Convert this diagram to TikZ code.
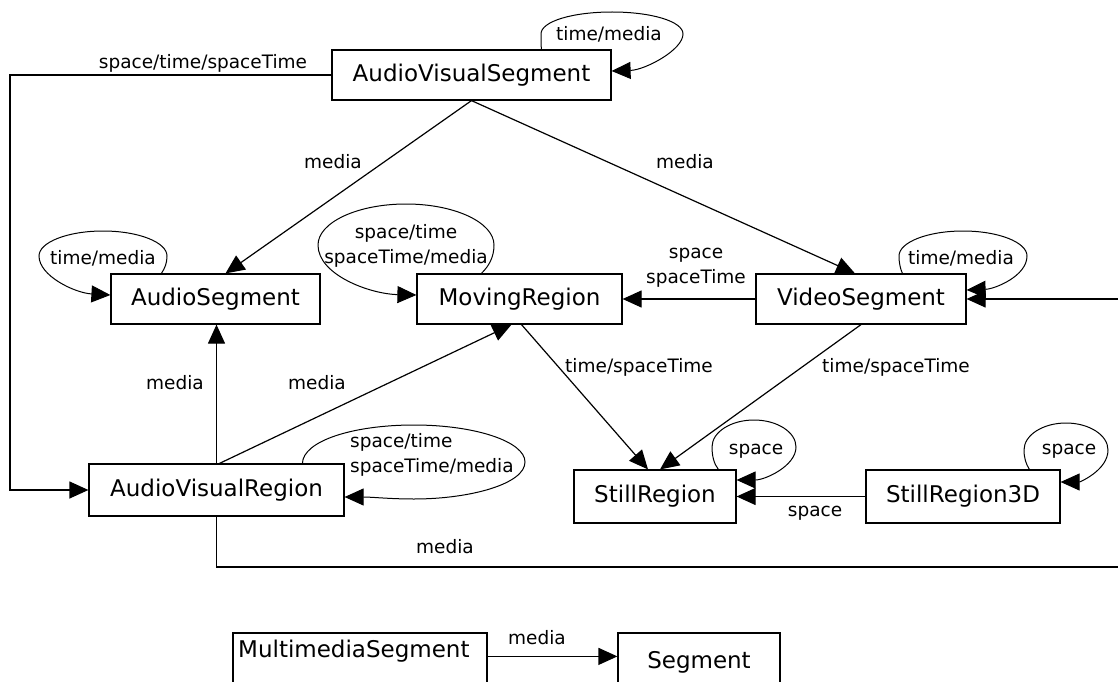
\documentclass[tikz,border=0pt]{standalone}
\usepackage{fontspec}
\setmainfont{DejaVu Sans}
\usetikzlibrary{arrows.meta}
\newcommand\boxfont{\fontsize{23}{28}\selectfont}
\newcommand\edgefont{\fontsize{18.5}{25}\selectfont}
\begin{document}
\begin{tikzpicture}[x=1pt,y=-1pt,
  box/.style={draw, line width=1.2pt, inner sep=0pt, font=\boxfont},
  lbl/.style={inner sep=0pt, font=\edgefont},
  link/.style={line width=1.2pt, -{Triangle[length=19pt,width=17pt]}},
  selfloop/.style={line width=1pt, -{Triangle[length=19pt,width=17pt]}}]
\useasboundingbox (0,0) rectangle (1118,682);
\clip (0,0) rectangle (1118,682);

% segment types
\node[box, minimum width=279pt, minimum height=50pt] (avs) at (471.5,75) {AudioVisualSegment};
\node[box, minimum width=209pt, minimum height=50pt] (aseg) at (215.5,299) {AudioSegment};
\node[box, minimum width=205pt, minimum height=50pt] (mr) at (519.5,299) {MovingRegion};
\node[box, minimum width=210pt, minimum height=50pt] (vs) at (861,299) {VideoSegment};
\node[box, minimum width=255pt, minimum height=52pt] (avr) at (216.5,490) {AudioVisualRegion};
\node[box, minimum width=162pt, minimum height=53pt] (sr) at (655,496.5) {StillRegion};
\node[box, minimum width=194pt, minimum height=53pt] (sr3d) at (963,496.5) {StillRegion3D};
\node[box, minimum width=254pt, minimum height=80pt] (mms) at (360,673) {};
\node[box, minimum width=162pt, minimum height=80pt] (seg) at (699,673) {};
\node[font=\boxfont, inner sep=0pt, anchor=base west] (mmstext) at (238,657) {MultimediaSegment};
\node[font=\boxfont, inner sep=0pt, anchor=base] (segtext) at (699,668) {Segment};

% decomposition links
\coordinate (lt) at (10,75);
\coordinate (lb) at (10,490);
\draw[link] (avs.west) -- (lt) -- (lb) -- (avr.west);
\node[lbl] at (203,63) {space/time/spaceTime};

\draw[link] (avs.south) -- ([xshift=10pt]aseg.north);
\node[lbl] at (333,162) {media};
\draw[link] (avs.south) -- ([xshift=-6pt]vs.north);
\node[lbl] at (685,162) {media};

\draw[link] (vs.west) -- (mr.east);
\node[lbl, align=center] at (696,268) {space\\spaceTime};

\draw[link] ([xshift=2pt]mr.south) -- ([xshift=-7pt]sr.north);
\node[lbl] at (639,367) {time/spaceTime};
\draw[link] (vs.south) -- ([xshift=5pt]sr.north);
\node[lbl] at (896,367) {time/spaceTime};

\draw[link] (avr.north) -- (aseg.south -| avr.north);
\node[lbl] at (175,383) {media};
\draw[link] ([xshift=3pt]avr.north) -- ([xshift=-8pt]mr.south);
\node[lbl] at (317,383) {media};

\draw[link] (sr3d.west) -- (sr.east);
\node[lbl] at (815,513) {space};

\coordinate (rb) at (1125,567);
\coordinate (rt) at (1125,299);
\draw[link] (avr.south) |- (rb) -- (rt) -- (vs.east);
\node[lbl] at (445,547) {media};

\draw[link] ([yshift=-24pt]mms.north east) -- ([yshift=-24pt]seg.north west);
\node[lbl] at (537,638) {media};

% self loops
\draw[selfloop] ([xshift=210pt]avs.north west)
  .. controls (541,44) and (541,40) .. (541,34)
  .. controls (541,21.3) and (572.8,12) .. (612,12)
  .. controls (651.2,12) and (683,21.3) .. (683,34)
  .. controls (683,50) and (645,70) .. ([yshift=4pt]avs.east);
\node[lbl] at (609,34) {time/media};

\draw[selfloop] ([xshift=51pt]aseg.north west)
  .. controls (165,268) and (167,263) .. (167,256)
  .. controls (167,242.2) and (138.3,231) .. (103,231)
  .. controls (67.7,231) and (39,242.2) .. (39,256)
  .. controls (39,276) and (75,293) .. ([yshift=4pt]aseg.west);
\node[lbl] at (103,258) {time/media};

\draw[selfloop] ([xshift=65pt]mr.north west)
  .. controls (489,266) and (494,257) .. (494,245)
  .. controls (494,222.4) and (454.6,204) .. (406,204)
  .. controls (357.4,204) and (318,222.4) .. (318,245)
  .. controls (318,275) and (370,294) .. ([yshift=4pt]mr.west);
\node[lbl, align=center] at (406,246) {space/time\\spaceTime/media};

\draw[selfloop] ([xshift=147pt]vs.north west)
  .. controls (900,268) and (899,262) .. (899,256)
  .. controls (899,242.2) and (927.7,231) .. (963,231)
  .. controls (998.3,231) and (1027,242.2) .. (1027,256)
  .. controls (1027,276) and (995,289) .. ([yshift=9pt]vs.east);
\node[lbl] at (961,258) {time/media};

\draw[selfloop] ([xshift=145pt]sr.north west)
  .. controls (714,464) and (712,456) .. (712,447)
  .. controls (712,432) and (731,420) .. (754,420)
  .. controls (777,420) and (796,432) .. (796,447)
  .. controls (796,466) and (765,480) .. ([yshift=16.5pt]sr.east);
\node[lbl] at (756,451) {space};

\draw[selfloop] ([xshift=164pt]sr3d.north west)
  .. controls (1026,464) and (1024,458) .. (1024,450)
  .. controls (1024,435) and (1043,423) .. (1066,423)
  .. controls (1089,423) and (1108,435) .. (1108,450)
  .. controls (1108,470) and (1080,482) .. ([yshift=14.5pt]sr3d.east);
\node[lbl] at (1069,451) {space};

\draw[selfloop] ([xshift=214pt]avr.north west)
  .. controls (303,441) and (352.7,425) .. (414,425)
  .. controls (475.3,425) and (525,441.6) .. (525,462)
  .. controls (525,484) and (470,499) .. (414,499)
  .. controls (390,499) and (372,497) .. ([yshift=-7pt]avr.east);
\node[lbl, align=left, anchor=west] at (350,455) {space/time\\spaceTime/media};
\end{tikzpicture}
\end{document}
